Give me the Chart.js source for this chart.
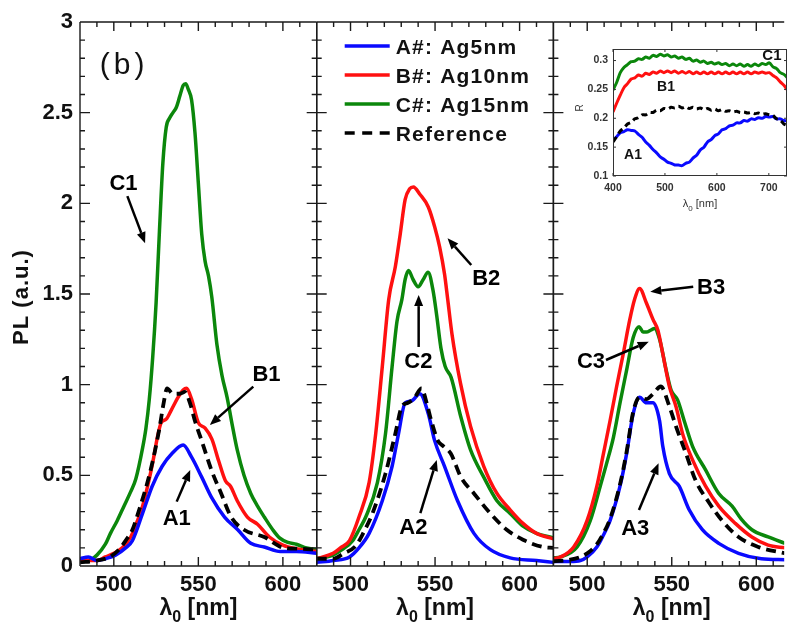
<!DOCTYPE html>
<html>
<head>
<meta charset="utf-8">
<script src="https://cdn.jsdelivr.net/npm/chart.js@4.4.1/dist/chart.umd.min.js"></script>
<style>
  body { margin: 0; background: #fff; }
  #wrap { position: relative; width: 794px; height: 626px; overflow: hidden; }
  #main { position: absolute; left: 0; top: 0; }
  #inset { position: absolute; left: 560px; top: 35px; }
</style>
</head>
<body>
<div id="wrap">
  <canvas id="main" width="794" height="626"></canvas>
  <canvas id="inset" width="234" height="185"></canvas>
</div>
<script>
var FONT = '"Liberation Sans", Arial, Helvetica, sans-serif';
var BLUE = '#0a0aff', RED = '#ff1010', GREEN = '#0b870b', BLACK = '#000000';

// PL spectra, pairs of [wavelength (nm), PL (a.u.)]
// panel 1: A1 / B1 / C1
var pl1A = [[480,0.04],[485,0.05],[490,0.03],[495,0.04],[501,0.06],[507,0.1],[511,0.14],[517,0.29],[522.7,0.44],[528.6,0.55],[534.4,0.62],[541,0.667],[546,0.6],[552,0.49],[557.7,0.38],[565.5,0.27],[573.3,0.2],[581,0.125],[589,0.105],[598.5,0.08],[608,0.08],[620,0.07]];
var pl1B = [[480,0.03],[485,0.03],[490,0.03],[495,0.05],[500,0.07],[505,0.1],[510,0.16],[514,0.25],[517,0.33],[520,0.44],[523,0.57],[526,0.72],[528,0.79],[531,0.81],[534,0.86],[538,0.93],[541,0.97],[543,0.98],[546,0.92],[550,0.79],[554,0.76],[558,0.7],[562,0.58],[566,0.47],[569,0.44],[573,0.36],[579,0.27],[585,0.23],[592,0.16],[600,0.115],[608,0.095],[620,0.08]];
var pl1C = [[480,0.03],[485,0.03],[490,0.06],[495,0.12],[498,0.18],[502,0.25],[506,0.33],[510,0.41],[513,0.48],[517,0.65],[519,0.76],[521,0.92],[523,1.15],[525,1.45],[527,1.85],[529,2.22],[531,2.42],[533,2.47],[535,2.5],[537,2.53],[539,2.59],[541,2.65],[542.5,2.66],[544,2.63],[546,2.57],[548,2.39],[550,2.11],[552,1.83],[554,1.68],[556,1.6],[558,1.48],[561,1.22],[564,1.05],[567,0.93],[570,0.78],[573,0.64],[577,0.5],[581,0.4],[585,0.33],[589,0.27],[594,0.2],[598,0.155],[603,0.13],[608,0.12],[614,0.1],[620,0.09]];
var pl1Ref = [[480,0.02],[490,0.03],[497.5,0.05],[503,0.09],[507,0.14],[511,0.2],[515,0.31],[518,0.4],[521,0.5],[524,0.62],[527,0.76],[529.5,0.9],[531.5,0.98],[535,0.95],[539,0.95],[542,0.96],[545,0.9],[548,0.8],[552,0.69],[557.7,0.53],[563.5,0.4],[569.4,0.27],[577,0.2],[589,0.16],[600.5,0.1],[610,0.095],[620,0.09]];

// panel 2: A2 / B2 / C2
var pl2A = [[480,0.02],[490,0.03],[499.4,0.05],[505,0.1],[511,0.18],[518.8,0.36],[524.6,0.55],[528.4,0.73],[532.3,0.9],[536,0.91],[541,0.95],[546,0.84],[549.8,0.69],[555.6,0.55],[563.3,0.36],[573,0.18],[582.7,0.09],[594.4,0.045],[610,0.03],[620,0.02]];
var pl2B = [[480,0.04],[489.7,0.07],[494,0.1],[499.4,0.14],[505,0.27],[511,0.46],[514.9,0.73],[518.8,1.1],[522.6,1.47],[526.5,1.65],[529.4,1.83],[532.3,2.02],[535,2.08],[537.2,2.09],[541,2.05],[546,1.98],[549.8,1.87],[552.7,1.76],[555.6,1.61],[557.5,1.47],[560,1.28],[565,1.01],[571,0.77],[578.8,0.55],[586.6,0.4],[594.4,0.31],[602,0.235],[610,0.18],[620,0.15]];
var pl2C = [[480,0.04],[489.7,0.06],[495,0.09],[501.3,0.14],[505,0.2],[509,0.27],[515.9,0.46],[520.7,0.73],[524.6,1.1],[527.5,1.35],[530.4,1.47],[532.3,1.58],[534.3,1.63],[537,1.58],[540,1.54],[543,1.58],[545.9,1.62],[548.8,1.52],[551,1.38],[553.5,1.2],[556,1.1],[559.5,1.04],[565.3,0.82],[571,0.64],[578.8,0.49],[586.6,0.36],[594.4,0.29],[602,0.22],[610,0.18],[620,0.155]];
var pl2Ref = [[480,0.04],[489.7,0.04],[496,0.07],[503,0.11],[508,0.19],[513,0.29],[520.7,0.51],[526.5,0.73],[530.4,0.88],[534,0.9],[538,0.93],[542,0.98],[545,0.9],[547.8,0.8],[551.7,0.69],[555,0.66],[559.3,0.62],[565.3,0.49],[573,0.4],[582.7,0.29],[592.4,0.2],[602,0.145],[613.7,0.105],[620,0.1]];

// panel 3: A3 / B3 / C3
var pl3A = [[480,0.025],[490,0.025],[496,0.03],[500,0.05],[505.7,0.105],[509,0.16],[513.5,0.25],[519.4,0.44],[523.3,0.62],[527.2,0.84],[531,0.93],[535,0.9],[538.9,0.9],[542.8,0.8],[544.7,0.66],[548.6,0.51],[554.4,0.44],[560.3,0.31],[568.1,0.2],[577.8,0.125],[589.5,0.07],[603,0.04],[617,0.035]];
var pl3B = [[480,0.04],[484.3,0.05],[492,0.105],[499.9,0.25],[505.7,0.44],[509.6,0.62],[513.5,0.8],[517.4,0.99],[521.3,1.17],[525.2,1.36],[528,1.47],[531,1.53],[535,1.45],[538.9,1.36],[541.8,1.3],[544.7,1.17],[548.6,0.99],[552.5,0.88],[556.4,0.73],[562.3,0.585],[570,0.44],[577.8,0.33],[587.6,0.235],[597.4,0.16],[607,0.115],[617,0.1]];
var pl3C = [[480,0.045],[484.3,0.05],[494,0.105],[501.8,0.25],[507.7,0.44],[511.6,0.57],[515.5,0.71],[519.4,0.9],[523.3,1.08],[527.2,1.26],[530.7,1.32],[533,1.29],[535,1.29],[537.5,1.3],[539.8,1.31],[542.8,1.25],[546.7,1.08],[549.6,0.97],[553.5,0.915],[557.4,0.8],[562.3,0.66],[570,0.53],[577.8,0.4],[585.7,0.33],[591,0.26],[597.4,0.2],[607,0.16],[617,0.125]];
var pl3Ref = [[480,0.025],[490,0.035],[496,0.05],[500,0.07],[505.7,0.12],[509,0.17],[513.5,0.26],[519.4,0.45],[523.3,0.63],[527.2,0.85],[531,0.93],[535,0.92],[539,0.95],[543.5,0.99],[548.6,0.88],[552.5,0.77],[558.4,0.62],[564.2,0.47],[572,0.35],[579.8,0.25],[589.5,0.16],[601.2,0.105],[617,0.07]];

// reflectance inset
var rWave = [400,407,414,421,428,435,442,449,456,463,470,477,484,491,498,505,512,519,526,533,540,547,554,561,568,575,582,589,596,603,610,617,624,631,638,645,652,659,666,673,680,687,694,701,708,715,722,729,736];
var rA = [.162,.168,.175,.177,.180,.179,.178,.172,.167,.159,.153,.146,.140,.133,.129,.124,.122,.119,.119,.118,.122,.124,.131,.136,.145,.150,.159,.163,.170,.173,.180,.182,.187,.188,.192,.192,.196,.195,.199,.198,.201,.200,.203,.202,.203,.199,.199,.196,.196];
var rB = [.211,.226,.240,.253,.260,.268,.270,.275,.273,.278,.276,.280,.278,.282,.279,.282,.279,.282,.278,.281,.278,.281,.277,.280,.277,.280,.277,.280,.277,.280,.277,.280,.277,.280,.277,.280,.277,.280,.277,.280,.278,.280,.278,.279,.274,.270,.263,.257,.249];
var rC = [.249,.262,.279,.288,.293,.298,.299,.303,.302,.306,.304,.309,.307,.311,.308,.310,.306,.308,.304,.306,.302,.304,.299,.301,.297,.299,.295,.297,.294,.296,.293,.295,.291,.294,.291,.294,.290,.293,.290,.294,.291,.295,.293,.296,.289,.286,.279,.276,.270];
var rRef = [.159,.168,.178,.183,.190,.193,.199,.201,.206,.206,.210,.210,.214,.213,.217,.216,.219,.218,.221,.218,.220,.217,.219,.216,.218,.215,.217,.214,.216,.213,.215,.212,.213,.211,.212,.210,.211,.209,.210,.208,.209,.207,.208,.206,.205,.199,.197,.190,.187];

var seriesNames = ['A#: Ag5nm', 'B#: Ag10nm', 'C#: Ag15nm', 'Reference'];
var seriesColors = [BLUE, RED, GREEN, BLACK];
var xTickLabels = [500, 550, 600];
var yTickLabels = [0, 0.5, 1, 1.5, 2, 2.5, 3];
var insetXTicks = [400, 500, 600, 700];
var insetYTicks = [0.1, 0.15, 0.2, 0.25, 0.3];
var panelMax = [620, 620, 616.5];
var panelWeight = [240, 240, 234];

// callouts: [panel, text, textNm, textPL, fromNm, fromPL, toNm, toPL]
var notes = [
  [0, 'C1', 505.7, 2.107, 508, 2.04, 518.5, 1.78],
  [0, 'B1', 590.3, 1.053, 582.5, 0.989, 556.8, 0.778],
  [0, 'A1', 537.2, 0.259, 537.2, 0.355, 545.2, 0.529],
  [1, 'B2', 580.3, 1.583, 571.4, 1.66, 557.4, 1.807],
  [1, 'C2', 540.1, 1.125, 540.3, 1.208, 540.3, 1.494],
  [1, 'A2', 537.2, 0.21, 541.3, 0.291, 551, 0.585],
  [2, 'B3', 573.3, 1.533, 562.7, 1.54, 537.3, 1.513],
  [2, 'C3', 502.2, 1.125, 511.1, 1.136, 536.4, 1.237],
  [2, 'A3', 528.4, 0.204, 530.6, 0.309, 542.2, 0.566]
];
// inset labels: [text, nm, R, size]
var insetNotes = [['C1', 706, 0.308, 15], ['B1', 502, 0.254, 14], ['A1', 438.5, 0.136, 14]];

function line(pairs, color, axis, dashed) {
  return {
    data: pairs.map(function (p) { return { x: p[0], y: p[1] }; }),
    borderColor: color,
    borderWidth: dashed ? 3.8 : 3.5,
    borderDash: dashed ? [10, 6] : [],
    pointRadius: 0,
    cubicInterpolationMode: 'monotone',
    fill: false,
    xAxisID: axis,
    yAxisID: 'y'
  };
}

function fixedTicks(values) {
  return function (s) { s.ticks = values.map(function (v) { return { value: v }; }); };
}

function arrow(ctx, x0, y0, x1, y1) {
  var a = Math.atan2(y1 - y0, x1 - x0), hl = 11, hw = 4.5;
  var bx = x1 - hl * Math.cos(a), by = y1 - hl * Math.sin(a);
  ctx.beginPath(); ctx.moveTo(x0, y0); ctx.lineTo(bx, by); ctx.stroke();
  ctx.beginPath(); ctx.moveTo(x1, y1);
  ctx.lineTo(bx + hw * Math.sin(a), by - hw * Math.cos(a));
  ctx.lineTo(bx - hw * Math.sin(a), by + hw * Math.cos(a));
  ctx.closePath(); ctx.fill();
}

// "λ0 [nm]" with a subscript zero
function lambdaTitle(ctx, cx, base, size, sub, weight) {
  ctx.textBaseline = 'alphabetic';
  ctx.textAlign = 'left';
  ctx.font = weight + ' ' + size + 'px ' + FONT;
  var w1 = ctx.measureText('λ').width, w3 = ctx.measureText(' [nm]').width;
  ctx.font = weight + ' ' + sub + 'px ' + FONT;
  var w2 = ctx.measureText('0').width;
  var x = cx - (w1 + w2 + w3) / 2;
  ctx.font = weight + ' ' + size + 'px ' + FONT;
  ctx.fillText('λ', x, base);
  ctx.font = weight + ' ' + sub + 'px ' + FONT;
  ctx.fillText('0', x + w1, base + size * 0.32);
  ctx.font = weight + ' ' + size + 'px ' + FONT;
  ctx.fillText(' [nm]', x + w1 + w2, base);
}

var panelIds = ['x1', 'x2', 'x3'];

var frame = {
  id: 'frame',
  afterDatasetsDraw: function (chart) {
    var ctx = chart.ctx, y = chart.scales.y, ca = chart.chartArea;
    ctx.save();
    ctx.strokeStyle = '#1a1a1a';
    ctx.lineWidth = 1.4;
    panelIds.forEach(function (id, i) {
      var s = chart.scales[id], L = s.left, R = s.right, T = ca.top, B = ca.bottom;
      ctx.beginPath();
      ctx.moveTo(L, T); ctx.lineTo(R, T);
      ctx.moveTo(L, B); ctx.lineTo(R, B);
      ctx.moveTo(L, T); ctx.lineTo(L, B);
      if (i < 2) { ctx.moveTo(R, T); ctx.lineTo(R, B); }
      for (var nm = 480; nm <= s.max; nm += 10) {
        var px = s.getPixelForValue(nm), len = nm % 50 === 0 ? 9 : 5;
        ctx.moveTo(px, B); ctx.lineTo(px, B - len);
        ctx.moveTo(px, T); ctx.lineTo(px, T + len);
      }
      for (var k = 0; k <= 30; k++) {
        var py = y.getPixelForValue(k / 10), l2 = k % 5 === 0 ? 10 : 5;
        ctx.moveTo(L, py); ctx.lineTo(L + l2, py);
        if (i < 2) { ctx.moveTo(R, py); ctx.lineTo(R - l2, py); }
      }
      ctx.stroke();
    });
    ctx.restore();
  },
  afterDraw: function (chart) {
    var ctx = chart.ctx, y = chart.scales.y, ca = chart.chartArea;
    ctx.save();
    ctx.fillStyle = '#111';
    // axis titles
    panelIds.forEach(function (id) {
      lambdaTitle(ctx, chart.scales[id].getPixelForValue(550), 615, 23, 16, 'bold');
    });
    ctx.save();
    ctx.translate(22, 297);
    ctx.rotate(-Math.PI / 2);
    ctx.font = 'bold 22px ' + FONT;
    ctx.letterSpacing = '1px';
    ctx.textAlign = 'center';
    ctx.textBaseline = 'middle';
    ctx.fillText('PL (a.u.)', 0, 0);
    ctx.restore();

    // panel tag
    ctx.font = '30px ' + FONT;
    ctx.letterSpacing = '4px';
    ctx.textAlign = 'left';
    ctx.textBaseline = 'middle';
    ctx.fillText('(b)', chart.scales.x1.getPixelForValue(491.7), y.getPixelForValue(2.76));
    ctx.letterSpacing = '0px';

    // callouts
    ctx.strokeStyle = '#000';
    ctx.fillStyle = '#000';
    ctx.lineWidth = 2.5;
    ctx.font = 'bold 22px ' + FONT;
    ctx.textAlign = 'center';
    ctx.textBaseline = 'middle';
    notes.forEach(function (n) {
      var s = chart.scales[panelIds[n[0]]];
      ctx.fillText(n[1], s.getPixelForValue(n[2]), y.getPixelForValue(n[3]));
      arrow(ctx, s.getPixelForValue(n[4]), y.getPixelForValue(n[5]),
            s.getPixelForValue(n[6]), y.getPixelForValue(n[7]));
    });

    // legend inside the middle panel
    var lx = chart.scales.x2.left + 28, ly = ca.top + 24;
    ctx.textAlign = 'left';
    ctx.font = 'bold 21px ' + FONT;
    ctx.letterSpacing = '1.2px';
    seriesNames.forEach(function (name, i) {
      var yy = ly + i * 29;
      ctx.strokeStyle = seriesColors[i];
      ctx.lineWidth = 3.5;
      ctx.setLineDash(i === 3 ? [10, 7.5] : []);
      ctx.beginPath(); ctx.moveTo(lx, yy); ctx.lineTo(lx + 45, yy); ctx.stroke();
      ctx.setLineDash([]);
      ctx.fillStyle = '#111';
      ctx.fillText(name, lx + 51, yy + 2);
    });
    ctx.letterSpacing = '0px';
    ctx.restore();
  }
};

function xScale(i) {
  return {
    type: 'linear',
    position: 'bottom',
    stack: 'panels',
    stackWeight: panelWeight[i],
    min: 480,
    max: panelMax[i],
    grid: { display: false, drawTicks: false },
    border: { display: false },
    afterFit: function (s) { s.height = 60; },
    afterBuildTicks: fixedTicks(xTickLabels),
    ticks: {
      autoSkip: false,
      maxRotation: 0,
      padding: 6,
      color: '#111',
      font: { family: FONT, size: 22, weight: 'bold' },
      callback: function (v) { return String(v); }
    }
  };
}

new Chart(document.getElementById('main'), {
  type: 'line',
  data: {
    datasets: [
      line(pl1Ref, BLACK, 'x1', true), line(pl1A, BLUE, 'x1'), line(pl1B, RED, 'x1'), line(pl1C, GREEN, 'x1'),
      line(pl2Ref, BLACK, 'x2', true), line(pl2A, BLUE, 'x2'), line(pl2B, RED, 'x2'), line(pl2C, GREEN, 'x2'),
      line(pl3Ref, BLACK, 'x3', true), line(pl3A, BLUE, 'x3'), line(pl3B, RED, 'x3'), line(pl3C, GREEN, 'x3')
    ]
  },
  options: {
    responsive: false,
    animation: false,
    layout: { padding: { top: 22, right: 0, bottom: 0, left: 0 } },
    plugins: { legend: { display: false }, tooltip: { enabled: false } },
    scales: {
      x1: xScale(0),
      x2: xScale(1),
      x3: xScale(2),
      y: {
        type: 'linear',
        min: 0,
        max: 3,
        grid: { display: false, drawTicks: false },
        border: { display: false },
        afterFit: function (s) { s.width = 80; },
        afterBuildTicks: fixedTicks(yTickLabels),
        ticks: {
          padding: 7,
          color: '#111',
          font: { family: FONT, size: 22, weight: 'bold' },
          callback: function (v) { return String(v); }
        }
      }
    }
  },
  plugins: [frame]
});

// reflectance inset
var insetFrame = {
  id: 'insetFrame',
  beforeDatasetsDraw: function (chart) {
    var ca = chart.chartArea, ctx = chart.ctx;
    ctx.save();
    ctx.fillStyle = '#fff';
    ctx.fillRect(ca.left, ca.top, ca.right - ca.left, ca.bottom - ca.top);
    ctx.restore();
  },
  afterDatasetsDraw: function (chart) {
    var ca = chart.chartArea, ctx = chart.ctx, sx = chart.scales.x, sy = chart.scales.y;
    ctx.save();
    ctx.strokeStyle = '#333';
    ctx.lineWidth = 1;
    ctx.strokeRect(ca.left + 0.5, ca.top + 0.5, ca.right - ca.left - 1, ca.bottom - ca.top - 1);
    ctx.beginPath();
    insetXTicks.forEach(function (v) {
      var px = sx.getPixelForValue(v);
      ctx.moveTo(px, ca.bottom); ctx.lineTo(px, ca.bottom - 3);
      ctx.moveTo(px, ca.top); ctx.lineTo(px, ca.top + 3);
    });
    insetYTicks.forEach(function (v) {
      var py = sy.getPixelForValue(v);
      ctx.moveTo(ca.left, py); ctx.lineTo(ca.left + 3, py);
      ctx.moveTo(ca.right, py); ctx.lineTo(ca.right - 3, py);
    });
    ctx.stroke();

    ctx.fillStyle = '#111';
    ctx.textAlign = 'center';
    ctx.textBaseline = 'middle';
    insetNotes.forEach(function (n) {
      ctx.font = 'bold ' + n[3] + 'px ' + FONT;
      ctx.fillText(n[0], sx.getPixelForValue(n[1]), sy.getPixelForValue(n[2]));
    });
    ctx.restore();
  },
  afterDraw: function (chart) {
    var ctx = chart.ctx, ca = chart.chartArea;
    ctx.save();
    ctx.fillStyle = '#333';
    lambdaTitle(ctx, (ca.left + ca.right) / 2, 172, 11, 8, 'normal');
    ctx.translate(20, 73);
    ctx.rotate(-Math.PI / 2);
    ctx.font = '10px ' + FONT;
    ctx.textAlign = 'center';
    ctx.textBaseline = 'middle';
    ctx.fillText('R', 0, 0);
    ctx.restore();
  }
};

function rLine(vals, color, dashed) {
  return {
    data: rWave.map(function (w, i) { return { x: w, y: vals[i] }; }),
    borderColor: color,
    borderWidth: 3,
    borderDash: dashed ? [6, 4] : [],
    pointRadius: 0,
    tension: 0.3,
    fill: false
  };
}

new Chart(document.getElementById('inset'), {
  type: 'line',
  data: {
    datasets: [rLine(rRef, BLACK, true), rLine(rA, BLUE), rLine(rB, RED), rLine(rC, GREEN)]
  },
  options: {
    responsive: false,
    animation: false,
    layout: { padding: { top: 14, right: 7, bottom: 0, left: 0 } },
    plugins: { legend: { display: false }, tooltip: { enabled: false } },
    scales: {
      x: {
        type: 'linear',
        min: 400,
        max: 735,
        grid: { display: false, drawTicks: false },
        border: { display: false },
        afterFit: function (s) { s.height = 44; },
        afterBuildTicks: fixedTicks(insetXTicks),
        ticks: {
          autoSkip: false,
          maxRotation: 0,
          padding: 6,
          color: '#333',
          font: { family: FONT, size: 10.5, weight: 'bold' },
          callback: function (v) { return String(v); }
        }
      },
      y: {
        type: 'linear',
        min: 0.1,
        max: 0.32,
        grid: { display: false, drawTicks: false },
        border: { display: false },
        afterFit: function (s) { s.width = 53; },
        afterBuildTicks: fixedTicks(insetYTicks),
        ticks: {
          padding: 5,
          color: '#333',
          font: { family: FONT, size: 10.5, weight: 'bold' },
          callback: function (v) { return String(v); }
        }
      }
    }
  },
  plugins: [insetFrame]
});
</script>
</body>
</html>
